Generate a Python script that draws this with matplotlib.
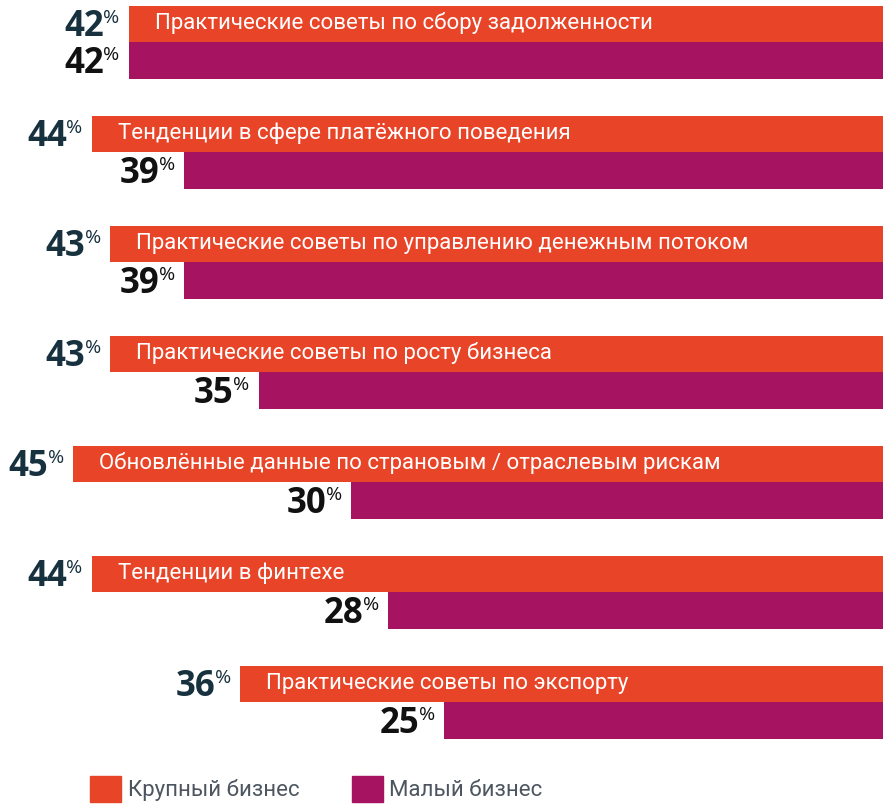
import matplotlib.pyplot as plt
from matplotlib.patches import Patch

topics = [
    "Практические советы по сбору задолженности",
    "Тенденции в сфере платёжного поведения",
    "Практические советы по управлению денежным потоком",
    "Практические советы по росту бизнеса",
    "Обновлённые данные по страновым / отраслевым рискам",
    "Тенденции в финтехе",
    "Практические советы по экспорту",
]
large = [42, 44, 43, 43, 45, 44, 36]
small = [42, 39, 39, 35, 30, 28, 25]
legend_labels = ["Крупный бизнес", "Малый бизнес"]

ORANGE = "#e84427"
PURPLE = "#a51361"
NAVY = "#17313f"
BLACK = "#111111"
GREY = "#4d5660"
LABEL_FONT = ["Roboto", "DejaVu Sans"]
NUM_FONT = ["Open Sans", "DejaVu Sans"]

W, H = 883, 805
fig = plt.figure(figsize=(W / 100, H / 100), dpi=100)
# axes runs a bit past the right edge so bars start at a non-zero offset
ax = fig.add_axes([0, 0, 907.75 / W, 1])
ax.set_xlim(48.94, 0)
ax.set_ylim(6.934, -0.3845)
ax.axis("off")

bh = 0.332
for i, (topic, lv, sv) in enumerate(zip(topics, large, small)):
    yl = i - bh / 2
    ys = i + bh / 2
    ax.barh(yl, lv, height=bh, left=0, color=ORANGE)
    ax.barh(ys, sv, height=bh, left=0, color=PURPLE)

    ax.annotate(topic, (lv, yl), xytext=(26, 1), textcoords="offset pixels",
                ha="left", va="center", color="white", fontsize=16,
                family=LABEL_FONT)

    for v, y, c in ((lv, yl, NAVY), (sv, ys, BLACK)):
        ax.annotate(str(v), (v, y), xytext=(-25, -12), textcoords="offset pixels",
                    ha="right", va="baseline", color=c, fontsize=25,
                    fontweight="bold", family=NUM_FONT)
        ax.annotate("%", (v, y), xytext=(-9, 1), textcoords="offset pixels",
                    ha="right", va="baseline", color=c, fontsize=14,
                    family=NUM_FONT)

handles = [Patch(color=ORANGE), Patch(color=PURPLE)]
fig.legend(handles, legend_labels, loc="center left",
           bbox_to_anchor=(90 / W, 1 - 789 / H), ncol=2, frameon=False,
           prop={"family": LABEL_FONT, "size": 16},
           handlelength=1.4, handleheight=1.4, handletextpad=0.3,
           columnspacing=2.35, borderpad=0, borderaxespad=0,
           labelcolor=GREY)

fig.savefig("out.png", dpi=100)
